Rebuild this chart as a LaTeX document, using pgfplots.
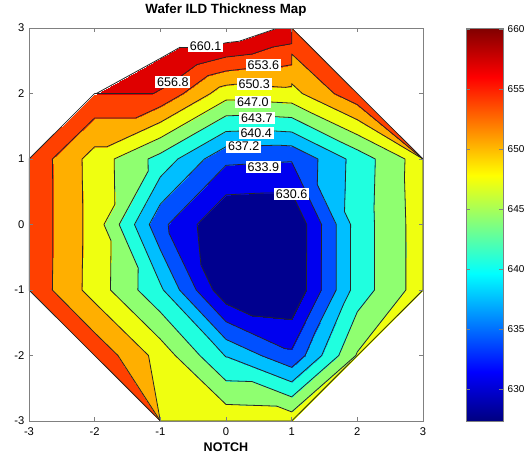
\documentclass[border=0pt]{standalone}
\usepackage{fontspec}
\setmainfont{Liberation Sans}
\usepackage{pgfplots}
\pgfplotsset{compat=1.18}
\tikzset{lbl/.style={fill=white, inner xsep=1.5pt, inner ysep=1.2pt, font=\fontsize{9.4}{10}\selectfont}}
\pgfplotsset{cline/.style={black!85, line width=0.6pt, no marks, line join=round}}

\begin{document}
\begin{tikzpicture}
\useasboundingbox (-21.75pt,-24.75pt) rectangle (377.25pt,315.75pt);
\begin{axis}[
  at={(0pt,0pt)}, anchor=south west,
  scale only axis, width=295.5pt, height=294.75pt,
  xmin=-3, xmax=3, ymin=-3, ymax=3,
  xtick={-3,...,3}, ytick={-3,...,3},
  tick align=inside, major tick length=3pt,
  every tick/.style={gray},
  axis line style={gray},
  axis on top,
  tick label style={font=\fontsize{8.4}{10}\selectfont},
  xticklabel style={yshift=-1.5pt},
  /pgf/number format/assume math mode=true,
  title={Wafer ILD Thickness Map},
  title style={font=\bfseries\fontsize{10}{12}\selectfont, at={(axis description cs:0.5,1)}, anchor=base, yshift=4.7pt},
  xlabel={NOTCH},
  xlabel style={font=\bfseries\fontsize{9.4}{11}\selectfont, at={(axis description cs:0.5,0)}, anchor=base, yshift=-22.5pt},
  colormap={ild}{
    rgb255(0pt)=(0,0,143); rgb255(1pt)=(0,0,239); rgb255(2pt)=(0,80,255);
    rgb255(3pt)=(0,191,255); rgb255(4pt)=(32,255,223); rgb255(5pt)=(143,255,112);
    rgb255(6pt)=(239,255,16); rgb255(7pt)=(255,175,0); rgb255(8pt)=(255,64,0);
    rgb255(9pt)=(223,0,0); rgb255(10pt)=(255,255,255); rgb255(11pt)=(255,255,255)
  },
  point meta min=627.33, point meta max=663.386,
]
% triangulated wafer map, 3 rows per triangle
\addplot[patch, shader=interp, colormap access=piecewise constant, point meta=explicit]
table[meta=z] {
x y z
-2 -2 656.1
-1.641 -2 653.55
-1 -3 656.0
-1.641 -2 653.55
-1.179 -2 650.27
-1 -3 653.55
-1.179 -2 650.27
-1 -2 649.0
-1 -3 650.27
-1 -3 648.5
0 -3 649.3
-1 -2 649.0
0 -3 649.3
0 -2 640.2
-1 -2 649.0
0 -3 649.3
1 -3 649.0
0 -2 640.2
1 -3 649.0
1 -2 634.6
0 -2 640.2
1 -3 649.0
2 -2 647.3
1 -2 634.6
-3 -1 656.2
-2 -1 648.9
-2 -2 656.1
-2 -2 656.1
-1 -2 649.0
-2 -1 648.9
-1 -2 649.0
-1 -1 641.0
-2 -1 648.9
-1 -2 649.0
0 -2 640.2
-1 -1 641.0
0 -2 640.2
0 -1 628.0
-1 -1 641.0
0 -2 640.2
1 -2 634.6
0 -1 628.0
1 -2 634.6
1 -1 627.3
0 -1 628.0
1 -2 634.6
2 -2 647.3
2 -1 641.9
1 -2 634.6
2 -1 641.9
1 -1 627.3
2 -2 647.3
3 -1 648.8
2 -1 641.9
-3 -1 656.2
-2 -1 648.9
-2 0 649.0
-3 -1 656.2
-2 0 649.0
-3 0 656.2
-2 -1 648.9
-1 -1 641.0
-2 0 649.0
-1 -1 641.0
-1 0 634.8
-2 0 649.0
-1 -1 641.0
0 -1 628.0
-1 0 634.8
0 -1 628.0
0 0 627.3
-1 0 634.8
0 -1 628.0
1 -1 627.3
1 0 627.2
0 -1 628.0
1 0 627.2
0 0 627.3
1 -1 627.3
2 -1 641.9
2 0 641.9
1 -1 627.3
2 0 641.9
1 0 627.2
2 -1 641.9
3 -1 648.8
3 0 648.8
2 -1 641.9
3 0 648.8
2 0 641.9
-3 0 656.2
-2 0 649.0
-3 1 656.2
-2 0 649.0
-2 1 648.9
-3 1 656.2
-2 0 649.0
-1 0 634.8
-1 1 642.5
-2 0 649.0
-1 1 642.5
-2 1 648.9
-1 0 634.8
0 0 627.3
0 1 634.6
-1 0 634.8
0 1 634.6
-1 1 642.5
0 0 627.3
1 0 627.2
1 1 634.2
0 0 627.3
1 1 634.2
0 1 634.6
1 0 627.2
2 0 641.9
1 1 634.2
2 0 641.9
2 1 641.7
1 1 634.2
2 0 641.9
3 0 648.8
3 1 649.0
2 0 641.9
3 1 649.0
2 1 641.7
-3 1 656.2
-2 1 648.9
-2 2 656.4
-2 1 648.9
-1 1 642.5
-1 2 656.4
-2 1 648.9
-1 2 656.4
-2 2 656.4
-1 1 642.5
0 1 634.6
0 2 648.4
-1 1 642.5
0 2 648.4
-1 2 656.4
0 1 634.6
1 1 634.2
0 2 648.4
1 1 634.2
1 2 649.2
0 2 648.4
1 1 634.2
2 1 641.7
1 2 649.2
2 1 641.7
2 2 656.0
1 2 649.2
2 2 656.0
2 1.83 653.57
3 1 656.0
2 1.83 653.57
2 1.6 650.28
3 1 653.57
2 1.6 650.28
2.726 1 647.0
3 1 650.28
2 1.6 650.28
2 1 641.7
2.726 1 647.0
-2 2 660.2
-1 2 656.4
-1 3 663.3
-1 2 656.4
0 2 648.4
-0.5 2.5 657.9
0 2 648.4
0 3 663.5
-0.5 2.5 657.9
0 3 663.5
-1 3 663.3
-0.5 2.5 657.9
-1 3 663.3
-1 2 656.4
-0.5 2.5 657.9
0 2 648.4
1 2 649.2
0.5 2.5 655.1
1 2 649.2
1 3 659.2
0.5 2.5 655.1
1 3 659.2
0 3 663.5
0.5 2.5 655.1
0 3 663.5
0 2 648.4
0.5 2.5 655.1
1 2 649.2
2 2 656.0
1 3 656.5
};
% contour lines 630.6 ... 660.1
\addplot[cline] coordinates {(0,0.452) (0.478,0.478) (1,0.486) (1.231,0) (1.226,-0.774) (1.226,-1) (1,-1.452) (0.394,-1.394) (0,-1.213) (-0.2,-1) (-0.382,-0.618) (-0.44,0) (0,0.452)};
\addplot[cline] coordinates {(0,0.904) (0.957,0.957) (1,0.957) (1.456,0) (1.452,-0.548) (1.452,-1) (1,-1.904) (0.894,-1.894) (0,-1.484) (-0.454,-1) (-0.868,-0.132) (-0.88,0) (0,0.904)};
\addplot[cline] coordinates {(-0.329,1) (0,1.188) (0.789,1.211) (1,1.2) (1.4,1) (1.39,0.61) (1.68,0) (1.678,-0.322) (1.678,-1) (1.356,-1.644) (1.205,-2) (1,-2.181) (0.536,-2) (0,-1.754) (-0.708,-1) (-1,-0.387) (-1.169,0) (-1,0.312) (-0.329,1)};
\addplot[cline] coordinates {(-0.734,1) (0,1.42) (0.563,1.437) (1,1.413) (1.827,1) (1.805,0.195) (1.898,0) (1.897,-0.103) (1.897,-1) (1.795,-1.205) (1.457,-2) (1,-2.403) (0.023,-2.023) (0,-2.022) (-0.023,-2) (-0.25,-1.75) (-0.954,-1) (-1,-0.903) (-1.394,0) (-1,0.727) (-0.734,1)};
\addplot[cline] coordinates {(-1,1.086) (-0.797,1.203) (0,1.659) (0.331,1.669) (1,1.633) (1.733,1.267) (2,1.14) (2.274,1) (2.254,0.254) (2.261,0) (2.261,-0.739) (2.261,-1) (2,-1.333) (1.717,-2) (1,-2.632) (0.398,-2.398) (0,-2.385) (-0.398,-2) (-1,-1.3375) (-1.342,-1) (-1.3375,-0.6625) (-1.627,0) (-1.185,0.815) (-1.1875,1) (-1,1.086)};
\addplot[cline] coordinates {(-1,1.324) (-0.237,1.763) (0,1.899) (0.099,1.901) (1,1.853) (1.293,1.707) (2,1.371) (2.726,1) (2.718,0.718) (2.739,0) (2.739,-0.261) (2.739,-1) (2,-1.944) (1.976,-2) (1,-2.861) (0.773,-2.773) (0,-2.747) (-0.773,-2) (-1,-1.75) (-1.759,-1) (-1.75,-0.25) (-1.859,0) (-1.692,0.308) (-1.703,1) (-1,1.324)};
\addplot[cline] coordinates {(-1,-3) (-1.18,-2) (-2,-1.194) (-2.192,-1) (-2.181,-0.181) (-2.181,0) (-2.181,0.181) (-2.192,1) (-2,1.187) (-1.813,1.187) (-1,1.561) (-0.2375,2) (-0.1,2.1) (0,2.126) (0.142,2.142) (0.9065,2.0935) (1,2.11) (1,2.151) (1.162,2) (2,1.6) (3,1)};
\addplot[cline] coordinates {(-1,-3) (-1.645,-2) (-2,-1.653) (-2.644,-1) (-2.639,-0.639) (-2.639,0) (-2.639,0.639) (-2.644,1) (-2,1.627) (-1.373,1.627) (-1,1.799) (-0.65,2) (-0.274,2.274) (0,2.344) (0.389,2.389) (0.626,2.374) (1,2.44) (1,2.603) (1.647,2) (2,1.83) (3,1)};
\addplot[cline] coordinates {(-2,2) (-1.105,2) (-1,2.058) (-0.867,2.133) (-0.442,2.442) (0,2.556) (0.398,2.602) (0.709,2.709) (1,2.76) (1,3)};
\addplot[cline] coordinates {(-2,2) (-1.974,2) (-1,2.536) (-0.704,2.704) (-0.304,2.696) (0,2.775) (0.202,2.798) (0.791,3)};
% wafer outline
\addplot[cline] coordinates {
(0.791,3) (1,3) (3,1) (3,-1) (1,-3) (-1,-3) (-3,-1) (-3,1) (-2,2)};
% contour labels
\node[lbl] at (axis cs:-0.31,2.72) {660.1};
\node[lbl] at (axis cs:-0.81,2.18) {656.8};
\node[lbl] at (axis cs:0.57,2.43) {653.6};
\node[lbl] at (axis cs:0.43,2.14) {650.3};
\node[lbl] at (axis cs:0.41,1.875) {647.0};
\node[lbl] at (axis cs:0.47,1.63) {643.7};
\node[lbl] at (axis cs:0.46,1.40) {640.4};
\node[lbl] at (axis cs:0.27,1.19) {637.2};
\node[lbl] at (axis cs:0.57,0.88) {633.9};
\node[lbl] at (axis cs:1.0,0.465) {630.6};
\end{axis}

% colour bar
\begin{axis}[
  at={(327.75pt,0pt)}, anchor=south west,
  scale only axis, width=27.75pt, height=294.75pt,
  xmin=0, xmax=1, ymin=627.33, ymax=660.11,
  xtick=\empty, ytick={630,635,...,660},
  yticklabel pos=right, ytick pos=both,
  tick align=inside, major tick length=3pt,
  every tick/.style={gray},
  axis line style={gray},
  tick label style={font=\fontsize{7.5}{9}\selectfont},
  /pgf/number format/assume math mode=true,
  colormap/jet, axis on top,
]
\addplot[surf, shader=interp, point meta=y, mesh/rows=2] coordinates {
(0,627.33) (1,627.33) (0,660.11) (1,660.11)};
\end{axis}
\end{tikzpicture}
\end{document}
